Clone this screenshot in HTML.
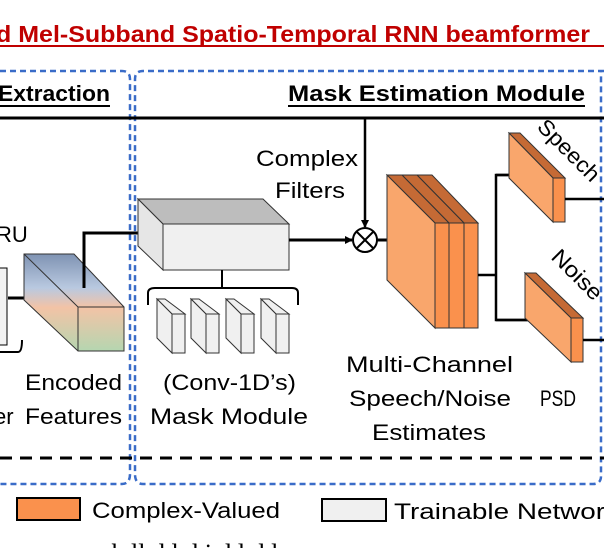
<html><head><style>body{margin:0;background:#fff}svg{display:block}</style></head><body>
<svg width="604" height="548" xmlns="http://www.w3.org/2000/svg" font-family="Liberation Sans, sans-serif">
<defs>
<marker id="a" markerWidth="8" markerHeight="8" refX="7" refY="4" orient="auto" markerUnits="userSpaceOnUse"><path d="M0,0L8,4L0,8z" fill="#000"/></marker>
<linearGradient id="g" x1="0" y1="0" x2="0" y2="1"><stop offset="0" stop-color="#7f93b3"/><stop offset="0.35" stop-color="#b9c9e0"/><stop offset="0.55" stop-color="#f3c3a6"/><stop offset="1" stop-color="#b5d6b0"/></linearGradient>
</defs>
<text x="-4" y="42" font-size="23" font-weight="bold" fill="#c00000" textLength="594" lengthAdjust="spacingAndGlyphs">d Mel-Subband Spatio-Temporal RNN beamformer</text>
<line x1="0" y1="46" x2="604" y2="46" stroke="#c00000" stroke-width="2"/>
<path d="M0,71 H122 Q130,71 130,79 V474 Q130,484 122,484 H0" fill="none" stroke="#3a6cc8" stroke-width="2.5" stroke-dasharray="6,4"/>
<path d="M604,71 H143 Q135,71 135,79 V474 Q135,484 143,484 H593 Q601,484 601,476 V71" fill="none" stroke="#3a6cc8" stroke-width="2.5" stroke-dasharray="6,4"/>
<text x="-2" y="101" font-size="22" font-weight="bold" textLength="112" lengthAdjust="spacingAndGlyphs">Extraction</text>
<line x1="0" y1="106" x2="110" y2="106" stroke="#000" stroke-width="2"/>
<text x="288" y="101" font-size="22" font-weight="bold" textLength="297" lengthAdjust="spacingAndGlyphs">Mask Estimation Module</text>
<line x1="288" y1="106" x2="585" y2="106" stroke="#000" stroke-width="2"/>
<line x1="0" y1="118" x2="604" y2="118" stroke="#000" stroke-width="3"/>
<line x1="0" y1="458" x2="604" y2="458" stroke="#000" stroke-width="3" stroke-dasharray="12,8"/>
<text x="-4" y="242" font-size="22">RU</text>
<path d="M0,268 H7 V345 H0" fill="#f2f2f2" stroke="#000" stroke-width="1"/>
<path d="M0,352 H18 Q22,352 22,340" fill="none" stroke="#000" stroke-width="2"/>
<line x1="8" y1="298" x2="50" y2="298" stroke="#000" stroke-width="3" marker-end="url(#a)"/>
<polygon points="24,254 74,254 124,307 124,351 78,351 24,300" fill="url(#g)" stroke="#333" stroke-width="1"/>
<polyline points="24,254 78,307 124,307" fill="none" stroke="#333"/>
<line x1="78" y1="307" x2="78" y2="351" stroke="#333"/>
<polyline points="84,288 84,233 155,233" fill="none" stroke="#000" stroke-width="3" marker-end="url(#a)"/>
<polygon points="138,199 263,199 289,224 163,224" fill="#bdbdbd" stroke="#333"/>
<polygon points="138,199 163,224 163,270 138,246" fill="#e6e6e6" stroke="#333"/>
<rect x="163" y="224" width="126" height="46" fill="#f0f0f0" stroke="#333"/>
<polyline points="289,240 352,240" fill="none" stroke="#000" stroke-width="3" marker-end="url(#a)"/>
<path d="M148,305 V293 Q148,288 155,288 H292 Q298,288 298,293 V305 M222,288 V270" fill="none" stroke="#000" stroke-width="2"/>
<g fill="#f0f0f0" stroke="#333">
<polygon points="157,299 165,299 185,314 172,314"/><rect x="172" y="314" width="13" height="39"/><polygon points="157,299 172,314 172,353 157,338"/>
<polygon points="191,299 199,299 219,314 206,314"/><rect x="206" y="314" width="13" height="39"/><polygon points="191,299 206,314 206,353 191,338"/>
<polygon points="226,299 234,299 254,314 241,314"/><rect x="241" y="314" width="13" height="39"/><polygon points="226,299 241,314 241,353 226,338"/>
<polygon points="261,299 269,299 289,314 276,314"/><rect x="276" y="314" width="13" height="39"/><polygon points="261,299 276,314 276,353 261,338"/>
</g>
<text x="256" y="166" font-size="22" textLength="102" lengthAdjust="spacingAndGlyphs">Complex</text>
<text x="275" y="198" font-size="22" textLength="70" lengthAdjust="spacingAndGlyphs">Filters</text>
<line x1="365" y1="118" x2="365" y2="227" stroke="#000" stroke-width="2.5" marker-end="url(#a)"/>
<circle cx="365" cy="240" r="12" fill="#fff" stroke="#000" stroke-width="2"/>
<path d="M357,232 L373,248 M373,232 L357,248" stroke="#000" stroke-width="2"/>
<line x1="377" y1="240" x2="410" y2="240" stroke="#000" stroke-width="3" marker-end="url(#a)"/>
<g stroke="#333" stroke-width="1">
<polygon points="417,175 432,175 478,223 464,223" fill="#c56a35"/>
<polygon points="402,175 417,175 464,223 449,223" fill="#c56a35"/>
<polygon points="387,175 402,175 449,223 435,223" fill="#c56a35"/>
<rect x="464" y="223" width="14" height="105" fill="#fa914d"/>
<rect x="449" y="223" width="15" height="105" fill="#fa914d"/>
<rect x="435" y="223" width="14" height="105" fill="#fa914d"/>
<polygon points="387,175 435,223 435,328 387,280" fill="#f9a66c"/>
</g>
<line x1="410" y1="240" x2="410" y2="240"/>
<polyline points="478,275 496,275" fill="none" stroke="#000" stroke-width="2.5"/>
<polyline points="522,175 496,175 496,320 552,320" fill="none" stroke="#000" stroke-width="2.5"/>
<line x1="496" y1="175" x2="522" y2="175" stroke="#000" stroke-width="2.5" marker-end="url(#a)"/>
<line x1="496" y1="320" x2="552" y2="320" stroke="#000" stroke-width="2.5" marker-end="url(#a)"/>
<g stroke="#333">
<polygon points="509,133 520,133 565,178 553,178" fill="#c56a35"/>
<rect x="553" y="178" width="12" height="44" fill="#fa914d"/>
<polygon points="509,133 553,178 553,222 509,178" fill="#f9a66c"/>
<polygon points="525,273 536,273 583,318 571,318" fill="#c56a35"/>
<rect x="571" y="318" width="12" height="44" fill="#fa914d"/>
<polygon points="525,273 571,318 571,362 525,318" fill="#f9a66c"/>
</g>
<line x1="565" y1="199" x2="604" y2="199" stroke="#000" stroke-width="2.5"/>
<line x1="583" y1="340" x2="604" y2="340" stroke="#000" stroke-width="2.5"/>
<text transform="translate(536,128) rotate(45)" font-size="22" textLength="78" lengthAdjust="spacingAndGlyphs">Speech</text>
<text transform="translate(550,258) rotate(45)" font-size="22" textLength="62" lengthAdjust="spacingAndGlyphs">Noise</text>
<g font-size="22">
<text x="25" y="390" textLength="97" lengthAdjust="spacingAndGlyphs">Encoded</text>
<text x="-6" y="424">er</text><text x="25" y="424" textLength="97" lengthAdjust="spacingAndGlyphs">Features</text>
<text x="163" y="390" textLength="133" lengthAdjust="spacingAndGlyphs">(Conv-1D’s)</text>
<text x="150" y="424" textLength="158" lengthAdjust="spacingAndGlyphs">Mask Module</text>
<text x="346" y="372" textLength="167" lengthAdjust="spacingAndGlyphs">Multi-Channel</text>
<text x="349" y="406" textLength="162" lengthAdjust="spacingAndGlyphs">Speech/Noise</text>
<text x="372" y="440" textLength="114" lengthAdjust="spacingAndGlyphs">Estimates</text>
<text x="540" y="406" textLength="36" lengthAdjust="spacingAndGlyphs">PSD</text>
</g>
<rect x="17" y="498" width="63" height="22" fill="#fa914d" stroke="#000" stroke-width="2"/>
<text x="92" y="518" font-size="22" textLength="188" lengthAdjust="spacingAndGlyphs">Complex-Valued</text>
<rect x="322" y="499" width="64" height="22" fill="#f0f0f0" stroke="#000" stroke-width="2"/>
<text x="394" y="519" font-size="22" textLength="225" lengthAdjust="spacingAndGlyphs">Trainable Network</text>
<text x="100" y="562" font-size="26" font-family="Liberation Serif, serif">ch ll d l   d     i  d  l   d   l</text>
</svg>
</body></html>
